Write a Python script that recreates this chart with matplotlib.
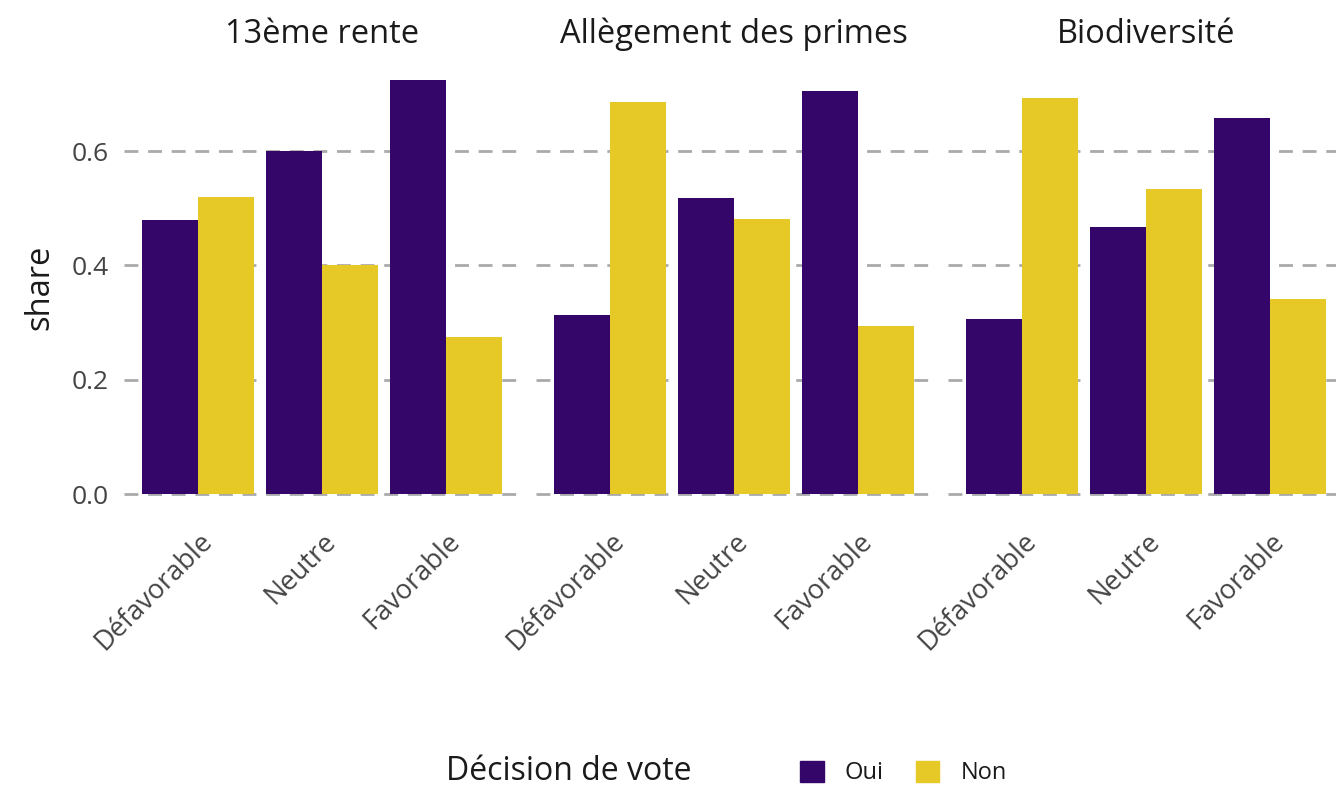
import matplotlib
matplotlib.use("Agg")
import matplotlib.pyplot as plt
from matplotlib.patches import Patch
import numpy as np

plt.rcParams["font.family"] = ["Open Sans", "DejaVu Sans"]

facets = ["13ème rente", "Allègement des primes", "Biodiversité"]
categories = ["Défavorable", "Neutre", "Favorable"]
oui = [
    [0.479, 0.600, 0.724],
    [0.313, 0.518, 0.705],
    [0.306, 0.467, 0.658],
]
non = [
    [0.520, 0.400, 0.275],
    [0.686, 0.481, 0.294],
    [0.693, 0.534, 0.341],
]
yticks = [0.0, 0.2, 0.4, 0.6]
legend_title = "Décision de vote"
series_names = ["Oui", "Non"]

c_oui = "#34066A"
c_non = "#E6C827"
text_c = "#444444"

W, H = 1336, 789
fig = plt.figure(figsize=(W / 100, H / 100), dpi=100)

panel_left = [123.6, 535.6, 947.6]
panel_w = 397
top_px, bot_px = 59.5, 514.7

x = np.arange(len(categories))
bw = 0.45
for i, name in enumerate(facets):
    ax = fig.add_axes([panel_left[i] / W, 1 - bot_px / H, panel_w / W, (bot_px - top_px) / H])
    ax.bar(x - bw / 2, oui[i], width=bw, color=c_oui, zorder=3)
    ax.bar(x + bw / 2, non[i], width=bw, color=c_non, zorder=3)
    ax.set_xlim(-0.6, 2.6)
    ax.set_ylim(-0.0362, 0.7602)
    ax.set_yticks(yticks)
    ax.yaxis.grid(True, color="#AAAAAA", linestyle=(0, (5, 3.5)), linewidth=2, zorder=1)
    ax.xaxis.grid(False)
    for s in ax.spines.values():
        s.set_visible(False)
    ax.tick_params(length=0)
    ax.tick_params(axis="x", pad=9)
    ax.set_xticks(x)
    ax.set_xticklabels(categories, rotation=45, ha="right", va="top",
                       rotation_mode="anchor", fontsize=19.5, color=text_c)
    if i == 0:
        ax.set_yticklabels([f"{v:.1f}" for v in yticks], fontsize=19, color=text_c)
        ax.tick_params(axis="y", pad=11)
    else:
        ax.set_yticklabels([])
    ax.set_title(name, fontsize=23.5, color="#1a1a1a", pad=12)

fig.text(40 / W, 1 - 287 / H, "share", rotation=90, fontsize=23.5,
         color="#1a1a1a", ha="center", va="center")

fig.text(446 / W, 18 / H, legend_title, fontsize=23, color="#1a1a1a",
         ha="left", va="center")
handles = [Patch(color=c_oui), Patch(color=c_non)]
fig.legend(handles, series_names, loc="center left", bbox_to_anchor=(800 / W, 16 / H),
           ncol=2, frameon=False, fontsize=17, handlelength=1, handleheight=1,
           handletextpad=0.9, columnspacing=1.35, borderpad=0, borderaxespad=0,
           labelcolor="#1a1a1a")

fig.savefig("out.png", dpi=100)
